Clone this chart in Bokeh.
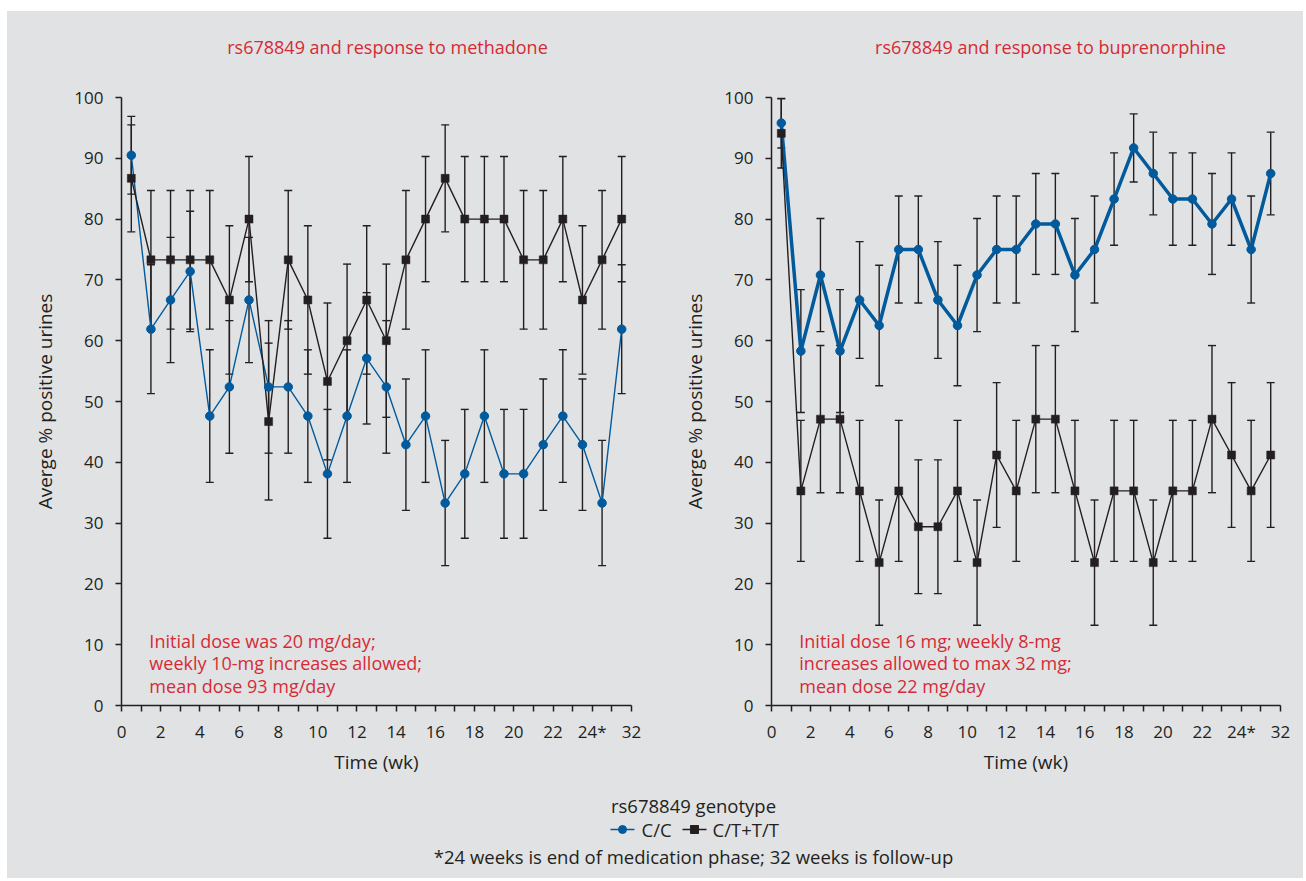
from bokeh.plotting import figure
from bokeh.models import Range1d, FixedTicker, Label
from bokeh.layouts import column, row
from bokeh.embed import file_html
from bokeh.resources import INLINE

# ---------------- data ----------------
week_slot = [i + 0.5 for i in range(26)]          # slot midpoints on the time axis
x_tick_values = list(range(0, 27, 2))
x_tick_labels = ["0", "2", "4", "6", "8", "10", "12", "14", "16", "18", "20", "22", "24*", "32"]
y_tick_values = [0, 10, 20, 30, 40, 50, 60, 70, 80, 90, 100]

meth_cc = [90.5, 61.9, 66.7, 71.4, 47.6, 52.4, 66.7, 52.4, 52.4, 47.6, 38.1, 47.6, 57.1,
           52.4, 42.9, 47.6, 33.3, 38.1, 47.6, 38.1, 38.1, 42.9, 47.6, 42.9, 33.3, 61.9]
meth_cc_err = [6.4, 10.6, 10.3, 9.9, 10.9, 10.9, 10.3, 10.9, 10.9, 10.9, 10.6, 10.9, 10.8,
               10.9, 10.8, 10.9, 10.3, 10.6, 10.9, 10.6, 10.6, 10.8, 10.9, 10.8, 10.3, 10.6]
meth_ct = [86.7, 73.3, 73.3, 73.3, 73.3, 66.7, 80.0, 46.7, 73.3, 66.7, 53.3, 60.0, 66.7,
           60.0, 73.3, 80.0, 86.7, 80.0, 80.0, 80.0, 73.3, 73.3, 80.0, 66.7, 73.3, 80.0]
meth_ct_err = [8.8, 11.4, 11.4, 11.4, 11.4, 12.2, 10.3, 12.9, 11.4, 12.2, 12.9, 12.6, 12.2,
               12.6, 11.4, 10.3, 8.8, 10.3, 10.3, 10.3, 11.4, 11.4, 10.3, 12.2, 11.4, 10.3]

bup_cc = [95.8, 58.3, 70.8, 58.3, 66.7, 62.5, 75.0, 75.0, 66.7, 62.5, 70.8, 75.0, 75.0,
          79.2, 79.2, 70.8, 75.0, 83.3, 91.7, 87.5, 83.3, 83.3, 79.2, 83.3, 75.0, 87.5]
bup_cc_err = [4.1, 10.1, 9.3, 10.1, 9.6, 9.9, 8.8, 8.8, 9.6, 9.9, 9.3, 8.8, 8.8,
              8.3, 8.3, 9.3, 8.8, 7.6, 5.6, 6.8, 7.6, 7.6, 8.3, 7.6, 8.8, 6.8]
bup_ct = [94.1, 35.3, 47.1, 47.1, 35.3, 23.5, 35.3, 29.4, 29.4, 35.3, 23.5, 41.2, 35.3,
          47.1, 47.1, 35.3, 23.5, 35.3, 35.3, 23.5, 35.3, 35.3, 47.1, 41.2, 35.3, 41.2]
bup_ct_err = [5.7, 11.6, 12.1, 12.1, 11.6, 10.3, 11.6, 11.0, 11.0, 11.6, 10.3, 11.9, 11.6,
              12.1, 12.1, 11.6, 10.3, 11.6, 11.6, 10.3, 11.6, 11.6, 12.1, 11.9, 11.6, 11.9]

titles = ["rs678849 and response to methadone", "rs678849 and response to buprenorphine"]
notes_meth = ["Initial dose was 20 mg/day;", "weekly 10-mg increases allowed;", "mean dose 93 mg/day"]
notes_bup = ["Initial dose 16 mg; weekly 8-mg", "increases allowed to max 32 mg;", "mean dose 22 mg/day"]
series_names = ["C/C", "C/T+T/T"]
legend_title = "rs678849 genotype"
footnote = "*24 weeks is end of medication phase; 32 weeks is follow-up"

# ---------------- styles ----------------
BG = "#e1e2e4"
INK = "#231f20"
BLUE = "#005a9c"
RED = "#d52b35"
FONT = "Open Sans"
TOTAL_W = 1296


def strip(height):
    s = figure(width=TOTAL_W, height=height, x_range=Range1d(0, TOTAL_W), y_range=Range1d(height, 0),
               output_backend="svg", toolbar_location=None, min_border=0,
               x_axis_type=None, y_axis_type=None,
               background_fill_color=BG, border_fill_color=BG, outline_line_color=None)
    s.grid.visible = False
    return s


def panel(cc, cc_err, ct, ct_err, notes, cc_width, width, b_left, b_right):
    p = figure(width=width, height=700, x_range=Range1d(0, 26), y_range=Range1d(0, 100),
               output_backend="svg", toolbar_location=None,
               min_border_left=b_left, min_border_right=b_right,
               min_border_top=12, min_border_bottom=80,
               background_fill_color=BG, border_fill_color=BG, outline_line_color=None)
    p.grid.visible = False

    # error bars
    for vals, errs in ((cc, cc_err), (ct, ct_err)):
        up = [v + e for v, e in zip(vals, errs)]
        lo = [v - e for v, e in zip(vals, errs)]
        p.segment(x0=week_slot, y0=lo, x1=week_slot, y1=up, line_color=INK, line_width=1.4)
        p.scatter(x=week_slot, y=up, marker="dash", size=8, line_color=INK, line_width=1.4)
        p.scatter(x=week_slot, y=lo, marker="dash", size=8, line_color=INK, line_width=1.4)

    p.line(x=week_slot, y=cc, line_color=BLUE, line_width=cc_width)
    p.line(x=week_slot, y=ct, line_color=INK, line_width=1.4)
    p.scatter(x=week_slot, y=cc, marker="circle", size=8.5, fill_color=BLUE, line_color=BLUE)
    p.scatter(x=week_slot, y=ct, marker="square", size=8, fill_color=INK, line_color=INK, line_width=0.5)

    for line_text, yy in zip(notes, (10.65, 6.95, 3.25)):
        p.add_layout(Label(x=1.42, y=yy, text=line_text, text_color=RED, text_font=FONT,
                           text_font_size="18px", text_baseline="middle", text_align="left"))

    p.xaxis.ticker = FixedTicker(ticks=list(range(27)))
    overrides = {t: "" for t in range(27)}
    for t, lab in zip(x_tick_values, x_tick_labels):
        overrides[t] = lab
    p.xaxis.major_label_overrides = overrides
    p.yaxis.ticker = FixedTicker(ticks=y_tick_values)
    p.xaxis.axis_label = "Time (wk)"
    p.yaxis.axis_label = "Averge % positive urines"

    for ax in (p.xaxis[0], p.yaxis[0]):
        ax.axis_line_color = INK
        ax.axis_line_width = 1.5
        ax.major_tick_line_color = INK
        ax.major_tick_line_width = 1.5
        ax.major_tick_out = 6
        ax.major_tick_in = 0
        ax.minor_tick_line_color = None
        ax.major_label_text_font = FONT
        ax.major_label_text_font_size = "17px"
        ax.major_label_text_color = INK
        ax.axis_label_text_font = FONT
        ax.axis_label_text_font_size = "19px"
        ax.axis_label_text_font_style = "normal"
        ax.axis_label_text_color = INK
    p.xaxis.major_label_standoff = 8
    p.xaxis.axis_label_standoff = 3
    p.yaxis.major_label_standoff = 12
    p.yaxis.axis_label_standoff = 13
    return p


# ---------------- title strip ----------------
p0 = strip(74)
for t, cx in zip(titles, (380, 1043)):
    p0.add_layout(Label(x=cx, y=35, text=t, text_color=RED, text_font=FONT,
                        text_font_size="18px", text_align="center", text_baseline="middle"))

p1 = panel(meth_cc, meth_cc_err, meth_ct, meth_ct_err, notes_meth, 1.4, 669, 114, 45)
p2 = panel(bup_cc, bup_cc_err, bup_ct, bup_ct_err, notes_bup, 3.5, 627, 95, 23)

# ---------------- legend / footnote strip ----------------
p3 = strip(93)
p3.add_layout(Label(x=686, y=20, text=legend_title, text_color=INK, text_font=FONT,
                    text_font_size="18.5px", text_align="center", text_baseline="middle"))
p3.add_layout(Label(x=686, y=71, text=footnote, text_color=INK, text_font=FONT,
                    text_font_size="18.5px", text_align="center", text_baseline="middle"))
p3.line(x=[603, 627], y=[44, 44], line_color=BLUE, line_width=1.6)
p3.scatter(x=[615], y=[44], marker="circle", size=8, fill_color=BLUE, line_color=BLUE)
p3.line(x=[675, 699], y=[44, 44], line_color=INK, line_width=1.6)
p3.scatter(x=[687], y=[44], marker="square", size=8, fill_color=INK, line_color=INK)
p3.add_layout(Label(x=634, y=44, text=series_names[0], text_color=INK, text_font=FONT,
                    text_font_size="18.5px", text_align="left", text_baseline="middle"))
p3.add_layout(Label(x=705, y=44, text=series_names[1], text_color=INK, text_font=FONT,
                    text_font_size="18.5px", text_align="left", text_baseline="middle"))

mid = row(p1, p2, styles={"background-color": BG})
layout = column(p0, mid, p3,
                styles={"background-color": BG, "margin-left": "7px", "margin-top": "11px"})
open("out.html", "w").write(file_html(layout, INLINE))
